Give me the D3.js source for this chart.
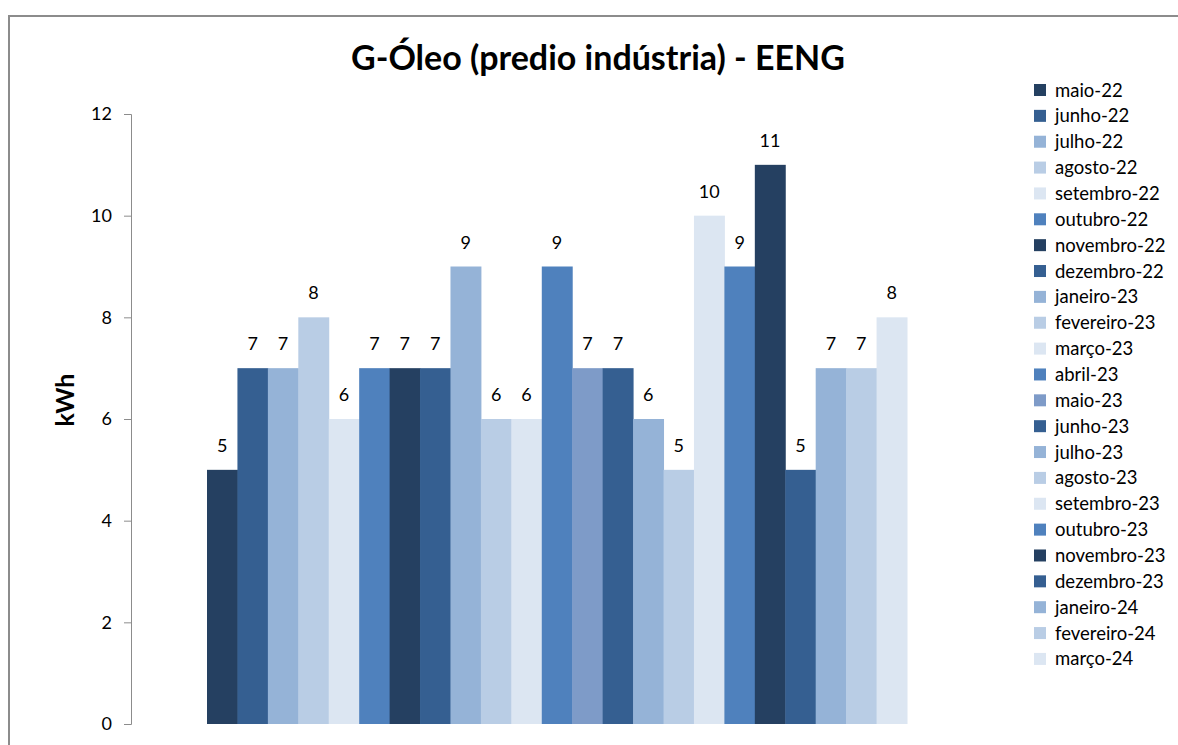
<!DOCTYPE html>
<html>
<head>
<meta charset="utf-8">
<script src="https://cdn.jsdelivr.net/npm/d3@7"></script>
<style>
  html, body { margin: 0; padding: 0; background: #fff; }
  svg { display: block; }
  text { font-family: Lato, "Open Sans", sans-serif; fill: #000; }
</style>
</head>
<body>
<svg id="chart" width="1178" height="745"></svg>
<script>
const title = "G-Óleo (predio indústria) - EENG";
const yAxisTitle = "kWh";
const months = ["maio-22","junho-22","julho-22","agosto-22","setembro-22","outubro-22","novembro-22","dezembro-22","janeiro-23","fevereiro-23","março-23","abril-23","maio-23","junho-23","julho-23","agosto-23","setembro-23","outubro-23","novembro-23","dezembro-23","janeiro-24","fevereiro-24","março-24"];
const values = [5,7,7,8,6,7,7,7,9,6,6,9,7,7,6,5,10,9,11,5,7,7,8];
const colors = ["#254061","#355f91","#95b3d7","#b9cde5","#dce6f2","#4f81bd","#254061","#355f91","#95b3d7","#b9cde5","#dce6f2","#4f81bd","#7e9bc8","#355f91","#95b3d7","#b9cde5","#dce6f2","#4f81bd","#254061","#355f91","#95b3d7","#b9cde5","#dce6f2"];
const yTicks = [0,2,4,6,8,10,12];

const svg = d3.select("#chart");

// chart frame
svg.append("path")
  .attr("d", "M9,745 V16 H1178")
  .attr("fill", "none").attr("stroke", "#8c8c8c").attr("stroke-width", 2);

const y = d3.scaleLinear().domain([0, 12]).range([724, 114]);
const x = d3.scaleBand().domain(months).range([207, 907]).padding(0);
const color = d3.scaleOrdinal().domain(months).range(colors);

// y axis
const yAxis = d3.axisLeft(y).tickValues(yTicks).tickSize(7).tickPadding(12).tickFormat(d3.format("d"));
const gy = svg.append("g").attr("transform", "translate(131,0)").call(yAxis);
gy.select(".domain").attr("stroke", "#8c8c8c").attr("d", "M-7,114.5H0.5V724.5H-7");
gy.selectAll(".tick line").attr("stroke", "#8c8c8c");
gy.selectAll(".tick text").style("font-size", "18px").style("font-family", "Lato, sans-serif").attr("fill", "#000");

// bars
svg.append("g").selectAll("rect").data(values).join("rect")
  .attr("x", (d, i) => x(months[i]))
  .attr("y", d => y(d))
  .attr("width", x.bandwidth() + 0.5)
  .attr("height", d => y(0) - y(d))
  .attr("fill", (d, i) => color(months[i]));

// data labels
svg.append("g").selectAll("text").data(values).join("text")
  .attr("x", (d, i) => x(months[i]) + x.bandwidth() / 2)
  .attr("y", d => y(d) - 18)
  .attr("text-anchor", "middle")
  .style("font-size", "18px")
  .text(d => d);

// title
svg.append("text")
  .attr("x", 598).attr("y", 70)
  .attr("text-anchor", "middle")
  .style("font-size", "34px").style("font-weight", "bold")
  .text(title);

// y axis title
svg.append("text")
  .attr("transform", "translate(74,400) rotate(-90)")
  .attr("text-anchor", "middle")
  .style("font-size", "25px").style("font-weight", "bold")
  .text(yAxisTitle);

// legend
const lg = svg.append("g").selectAll("g").data(months).join("g")
  .attr("transform", (d, i) => `translate(1034,${90 + i * 25.86})`);
lg.append("rect").attr("x", 0).attr("y", -6).attr("width", 12).attr("height", 12)
  .attr("fill", d => color(d));
lg.append("text").attr("x", 21).attr("y", 6.5).style("font-size", "18.5px").text(d => d);
</script>
</body>
</html>
